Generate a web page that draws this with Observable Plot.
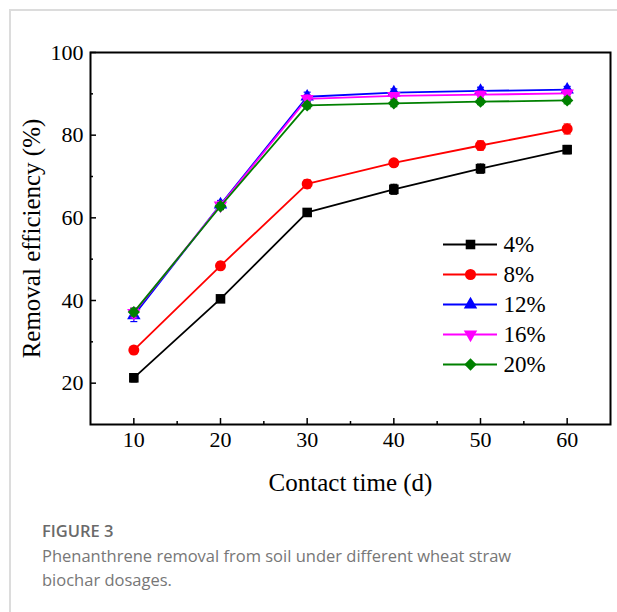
<!DOCTYPE html>
<html>
<head>
<meta charset="utf-8">
<script src="https://cdn.jsdelivr.net/npm/d3@7"></script>
<script src="https://cdn.jsdelivr.net/npm/@observablehq/plot@0.6"></script>
<style>
  html, body { margin: 0; padding: 0; background: #fff; }
  #page { position: relative; width: 617px; height: 612px; overflow: hidden; }
  #card { position: absolute; left: 9px; top: 9px; width: 620px; height: 620px;
          border-top: 2px solid #dcdcdc; border-left: 2px solid #dcdcdc; box-sizing: border-box; }
  #chart { position: absolute; left: 0; top: 0; }
  #legend { position: absolute; left: 443px; top: 229px; }
  #chart svg text, #legend svg text { font-family: "Liberation Serif", "Times New Roman", serif !important; font-variant: normal !important; }
  #cap { position: absolute; left: 42px; top: 520px; font-family: "Open Sans", sans-serif; color: #777; }
  #cap .fig { font-weight: 600; font-size: 16.5px; color: #6a6a6a; line-height: 22px; }
  #cap .txt { font-size: 16.5px; font-weight: 400; line-height: 24px; margin-top: 2px; }
</style>
</head>
<body>
<div id="page">
  <div id="card"></div>
  <div id="chart"></div>
  <div id="legend"></div>
  <div id="cap">
    <div class="fig">FIGURE 3</div>
    <div class="txt">Phenanthrene removal from soil under different wheat straw<br>biochar dosages.</div>
  </div>
</div>
<script>
// ---- data ----
const days = [10, 20, 30, 40, 50, 60];
const seriesNames = ["4%", "8%", "12%", "16%", "20%"];
const val4  = [21.3, 40.4, 61.3, 66.9, 71.9, 76.5];
const val8  = [28.0, 48.4, 68.2, 73.3, 77.5, 81.5];
const val12 = [36.4, 63.2, 89.3, 90.3, 90.7, 91.0];
const val16 = [37.0, 63.0, 88.8, 89.5, 89.8, 90.1];
const val20 = [37.2, 62.8, 87.2, 87.7, 88.1, 88.4];
const err4  = [1.0, 0.8, 0.9, 1.2, 1.1, 1.0];
const err8  = [0.9, 0.9, 1.0, 0.8, 1.1, 1.2];
const err12 = [1.5, 1.0, 1.1, 0.9, 0.9, 0.8];
const err16 = [1.2, 1.0, 0.9, 0.8, 0.8, 0.8];
const err20 = [0.9, 0.8, 0.8, 0.8, 0.7, 0.8];
const colors = ["#000000", "#ff0000", "#0000ff", "#ff00ff", "#008000"];
const xTicks = [10, 20, 30, 40, 50, 60];
const xMinor = [15, 25, 35, 45, 55];
const yTicks = [20, 40, 60, 80, 100];
const yMinor = [30, 50, 70, 90];
const xLabel = "Contact time (d)";
const yLabel = "Removal efficiency (%)";

const allVals = [val4, val8, val12, val16, val20];
const allErrs = [err4, err8, err12, err16, err20];
const rows = [];
seriesNames.forEach((s, i) => days.forEach((d, j) =>
  rows.push({series: s, day: d, value: allVals[i][j], err: allErrs[i][j]})));

const symbolOf = {"4%": "square", "8%": "circle", "12%": "triangle", "16%": "triangle", "20%": "square"};
const rotateOf = {"4%": 0, "8%": 0, "12%": 0, "16%": 180, "20%": 45};
const rOf = {"4%": 5.4, "8%": 5.5, "12%": 5.0, "16%": 5.0, "20%": 4.9};
const capSymbol = {draw(ctx, size) { const r = Math.sqrt(size / Math.PI); ctx.moveTo(-r, 0); ctx.lineTo(r, 0); }};

const W = 617, H = 500, mL = 90, mR = 7, mT = 52, mB = 76;
const plotW = W - mL - mR, plotH = H - mT - mB;
const fontFam = "Liberation Serif, Times New Roman, serif";

const seriesMarks = [];
seriesNames.forEach((s, i) => {
  const data = rows.filter(r => r.series === s);
  const c = colors[i];
  seriesMarks.push(
    Plot.line(data, {x: "day", y: "value", stroke: c, strokeWidth: 1.8}),
    Plot.ruleX(data, {x: "day", y1: d => d.value - d.err, y2: d => d.value + d.err, stroke: c, strokeWidth: 1.2}),
    Plot.dot(data, {x: "day", y: d => d.value - d.err, symbol: capSymbol, r: 3.5, stroke: c, strokeWidth: 1.2, fill: "none"}),
    Plot.dot(data, {x: "day", y: d => d.value + d.err, symbol: capSymbol, r: 3.5, stroke: c, strokeWidth: 1.2, fill: "none"}),
    Plot.dot(data, {x: "day", y: "value", symbol: symbolOf[s], rotate: rotateOf[s], r: rOf[s], fill: c, stroke: "none"})
  );
});

const chart = Plot.plot({
  width: W, height: H,
  marginLeft: mL, marginRight: mR, marginTop: mT, marginBottom: mB,
  style: {fontFamily: fontFam, fontSize: "22px", color: "#000", background: "transparent"},
  x: {domain: [5, 65]},
  y: {domain: [10, 100]},
  marks: [
    Plot.axisX(xTicks, {tickSize: 0, tickPadding: 7, fontSize: 22, fontFamily: fontFam, label: null, tickFormat: d => String(d)}),
    Plot.axisY(yTicks, {tickSize: 0, tickPadding: 7, fontSize: 22, fontFamily: fontFam, label: null, tickFormat: d => String(d)}),
    Plot.tickX(xTicks, {x: d => d, insetTop: plotH - 6, stroke: "#000", strokeWidth: 1.5}),
    Plot.tickX(xMinor, {x: d => d, insetTop: plotH - 3, stroke: "#000", strokeWidth: 1.5}),
    Plot.tickY(yTicks, {y: d => d, insetRight: plotW - 6, stroke: "#000", strokeWidth: 1.5}),
    Plot.tickY(yMinor, {y: d => d, insetRight: plotW - 3, stroke: "#000", strokeWidth: 1.5}),
    ...seriesMarks,
    Plot.frame({stroke: "#000", strokeWidth: 2}),
    Plot.text([xLabel], {text: d => d, frameAnchor: "bottom", dy: 58, fontSize: 25, fontFamily: fontFam, lineAnchor: "middle", fill: "#000"}),
    Plot.text([yLabel], {text: d => d, frameAnchor: "left", dx: -59, rotate: -90, fontSize: 25, fontFamily: fontFam, textAnchor: "middle", lineAnchor: "middle", fill: "#000"})
  ]
});
document.getElementById("chart").appendChild(chart);

// ---- legend ----
const legendData = seriesNames.map((s, i) => ({series: s, color: colors[i]}));
const legend = Plot.plot({
  width: 114, height: 150,
  marginLeft: 0, marginRight: 60, marginTop: 15, marginBottom: 15,
  style: {fontFamily: fontFam, fontSize: "23px", color: "#000", background: "transparent", overflow: "visible"},
  x: {axis: null},
  y: {type: "point", domain: seriesNames, padding: 0, axis: null},
  marks: [
    Plot.ruleY(legendData, {y: "series", stroke: d => d.color, strokeWidth: 2}),
    Plot.dot(legendData, {y: "series", frameAnchor: "middle", symbol: d => symbolOf[d.series], rotate: d => rotateOf[d.series], r: d => rOf[d.series], fill: d => d.color, stroke: "none"}),
    Plot.text(legendData, {y: "series", text: "series", frameAnchor: "right", dx: 6, textAnchor: "start", fontSize: 23, fontFamily: fontFam, fill: "#000"})
  ],
  color: {type: "identity"},
  symbol: {type: "identity"},
  r: {type: "identity"}
});
document.getElementById("legend").appendChild(legend);
</script>
</body>
</html>
